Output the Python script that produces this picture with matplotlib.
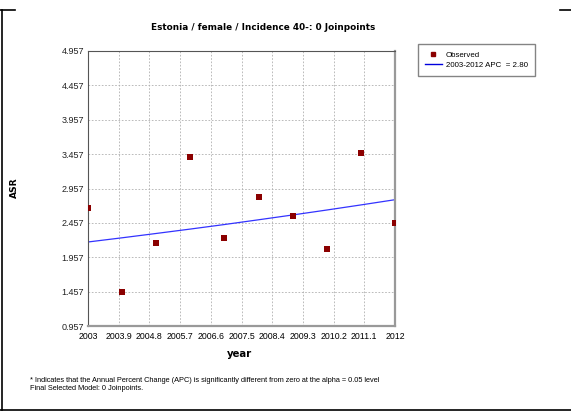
import matplotlib
matplotlib.use("Agg")
import matplotlib.pyplot as plt
from matplotlib.lines import Line2D

# Data
years = [2003, 2004, 2005, 2006, 2007, 2008, 2009, 2010, 2011, 2012]
observed = [2.673, 1.447, 2.164, 3.421, 2.237, 2.839, 2.563, 2.073, 3.479, 2.461]
modeled = [2.179, 2.240, 2.303, 2.367, 2.433, 2.502, 2.572, 2.644, 2.718, 2.794]

xticks = [2003, 2003.9, 2004.8, 2005.7, 2006.6, 2007.5, 2008.4, 2009.3, 2010.2, 2011.1, 2012]
xtick_labels = ["2003", "2003.9", "2004.8", "2005.7", "2006.6", "2007.5",
                "2008.4", "2009.3", "2010.2", "2011.1", "2012"]
yticks = [0.957, 1.457, 1.957, 2.457, 2.957, 3.457, 3.957, 4.457, 4.957]
ytick_labels = ["0.957", "1.457", "1.957", "2.457", "2.957", "3.457", "3.957", "4.457", "4.957"]

W, H = 571, 413
fig = plt.figure(figsize=(W / 100, H / 100), dpi=100)
fig.patch.set_facecolor("white")

# axes box in pixels
L, R, T, B = 88, 395, 51, 326
ax = fig.add_axes([L / W, 1 - B / H, (R - L) / W, (B - T) / H])

ax.plot(years, modeled, color="#3333ff", lw=0.9, zorder=2)
ax.scatter(years, observed, marker="s", s=14, color="#8b0000", zorder=3, linewidths=0)

ax.set_xlim(2003, 2012)
ax.set_ylim(0.957, 4.957)
ax.set_xticks(xticks)
ax.set_xticklabels(xtick_labels, fontsize=6.3, family="Liberation Sans")
ax.set_yticks(yticks)
ax.set_yticklabels(ytick_labels, fontsize=6.5, family="Liberation Sans", color="#222222")
ax.tick_params(length=0, pad=3)
ax.tick_params(axis="x", pad=4)
ax.grid(True, color="#b0b0b0", linestyle=(0, (2, 2)), lw=0.6)
for side in ["left", "top"]:
    ax.spines[side].set_color("#555555")
    ax.spines[side].set_linewidth(0.8)
for side in ["right", "bottom"]:
    ax.spines[side].set_color("#999999")
    ax.spines[side].set_linewidth(1.6)

# texts
fig.text(263 / W, 1 - 27 / H, "Estonia / female / Incidence 40-: 0 Joinpoints",
         ha="center", va="center", fontsize=6.4, fontweight="bold", family="DejaVu Sans")
fig.text(240 / W, 1 - 354 / H, "year", ha="center", va="center",
         fontsize=7.3, fontweight="bold", family="DejaVu Sans")
fig.text(14 / W, 1 - 188 / H, "ASR", ha="center", va="center", rotation=90,
         fontsize=6.6, fontweight="bold", family="DejaVu Sans")
fig.text(30 / W, 1 - 380 / H,
         "* Indicates that the Annual Percent Change (APC) is significantly different from zero at the alpha = 0.05 level",
         ha="left", va="center", fontsize=5.3, family="Liberation Sans")
fig.text(30 / W, 1 - 389 / H, "Final Selected Model: 0 Joinpoints.",
         ha="left", va="center", fontsize=5.3, family="Liberation Sans")

# legend
handles = [Line2D([], [], marker="s", color="#8b0000", ls="none", markersize=2.5),
           Line2D([], [], color="#0000dd", lw=1)]
leg = fig.legend(handles, ["Observed", "2003-2012 APC  = 2.80"],
                 loc="upper left", bbox_to_anchor=(418 / W, 1 - 44 / H),
                 prop={"family": "Liberation Sans", "size": 5.7},
                 frameon=True, fancybox=False, handlelength=2.1,
                 borderpad=0.9, labelspacing=0.35, handletextpad=0.5,
                 borderaxespad=0)
leg.get_frame().set_edgecolor("#666666")
leg.get_frame().set_linewidth(1.0)

# page frame fragments
frame = dict(color="black", lw=1.2, transform=fig.transFigure)
fig.add_artist(Line2D([2 / W, 2 / W], [1 - 10 / H, 1 - 410 / H], **frame))
fig.add_artist(Line2D([0, 15 / W], [1 - 10 / H, 1 - 10 / H], **frame))
fig.add_artist(Line2D([560 / W, 1], [1 - 10 / H, 1 - 10 / H], **frame))
fig.add_artist(Line2D([0, 1], [1 - 410 / H, 1 - 410 / H], **frame))

fig.savefig("out.png", dpi=100)
